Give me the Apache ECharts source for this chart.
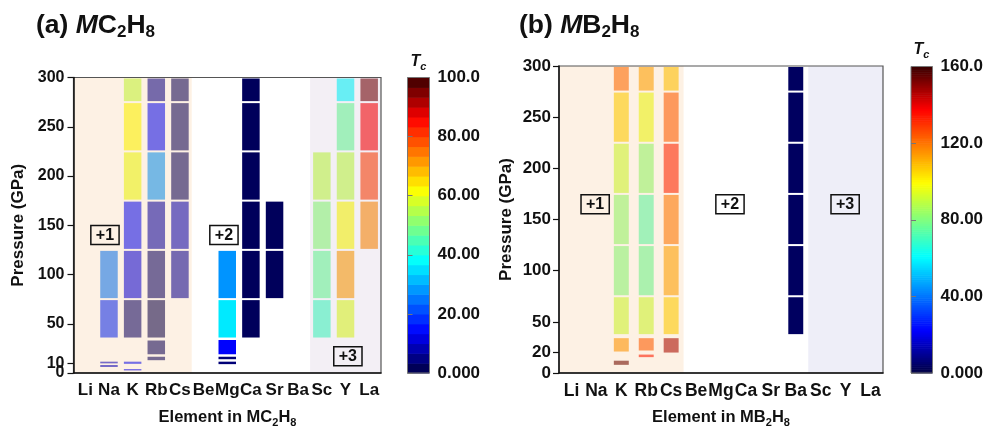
<!DOCTYPE html>
<html><head><meta charset="utf-8">
<script src="https://cdn.jsdelivr.net/npm/echarts@6/dist/echarts.min.js"></script>
<style>html,body{margin:0;padding:0;background:#fff}#c{width:989px;height:428px}</style>
</head><body><div id="c"></div>
<script>
// ---------------- data ----------------
const elements = ['Li','Na','K','Rb','Cs','Be','Mg','Ca','Sr','Ba','Sc','Y','La'];
const yTicksA = [0,10,50,100,150,200,250,300];
const yTicksB = [0,20,50,100,150,200,250,300];
const pMax = 300;
const tcMaxA = 100, tcMaxB = 160;
const cbIntervalA = 20, cbIntervalB = 40;
const cbStepsA = 30, cbStepsB = 160;
// cells: [element index, pressure low (GPa), pressure high (GPa), Tc (K)]
const cellsA = [
  [1,75,125,25],[1,35,75,18],[1,9.8,11.5,10],[1,6.1,8.1,10],
  [2,275,300,56],[2,225,275,62],[2,175,225,60],[2,125,175,15],[2,75,125,12],[2,35,75,3.5],[2,9.3,11.5,15],[2,2.6,4,14],
  [3,275,300,6],[3,225,275,15],[3,175,225,28],[3,125,175,8],[3,75,125,3.5],[3,35,75,1.4],[3,18,34,2.5],[3,13,16.5,2.5],
  [4,275,300,2.5],[4,225,275,2.5],[4,175,225,2.5],[4,125,175,9],[4,75,125,7],
  [6,75,125,28],[6,35,75,36],[6,18,34.5,14],[6,14,16.5,4],[6,9,11.5,4],
  [7,275,300,2],[7,225,275,2],[7,175,225,2],[7,125,175,2],[7,75,125,2],[7,35,75,2],
  [8,125,175,2],[8,75,125,2],
  [10,175,225,56],[10,125,175,51],[10,75,125,48],[10,35,75,44],
  [11,275,300,38],[11,225,275,48],[11,175,225,56],[11,125,175,62],[11,75,125,71],[11,35,75,59],
  [12,275,300,96],[12,225,275,86],[12,175,225,80],[12,125,175,73]
];
const cellsB = [
  [2,275,300,122],[2,225,275,106],[2,175,225,91],[2,125,175,82],[2,75,125,80],[2,37,75,91],[2,20,35,115],[2,7,13,155],
  [3,275,300,113],[3,225,275,96],[3,175,225,82],[3,125,175,73],[3,75,125,76],[3,37,75,91],[3,21,35,124],[3,15.5,18,135],
  [4,275,300,108],[4,225,275,124],[4,175,225,133],[4,125,175,120],[4,75,125,113],[4,37,75,106],[4,19,35,148],
  [9,275,300,3.7],[9,225,275,3.7],[9,175,225,3.7],[9,125,175,3.7],[9,75,125,3.7],[9,37,75,3.7]
];
// shaded valence groups: [first element index, last element index]
const shadeGroups = [[0,4],[10,12]];
// group labels: [element position, pressure, text]
const labelsA = [[0.83,140,'+1'],[5.86,140,'+2'],[11.1,17,'+3']];
const labelsB = [[0.95,165,'+1'],[6.36,165,'+2'],[10.98,165,'+3']];

// ---------------- styles ----------------
const FAM = '"Liberation Sans", Arial, sans-serif';
const INK = '#111';
const shadeA = ['rgba(250,225,197,0.47)','rgba(228,219,233,0.45)'];
const shadeB = ['rgba(250,225,197,0.47)','rgba(218,218,240,0.45)'];
const stops = [[0,[0,0,64]],[0.14,[0,0,255]],[0.38,[0,255,255]],[0.62,[255,255,0]],[0.86,[255,0,0]],[1,[56,0,0]]];
function cmap(t){
  for(let k=1;k<stops.length;k++){
    if(t<=stops[k][0]){
      const a=stops[k-1], b=stops[k], f=(t-a[0])/(b[0]-a[0]);
      const c=a[1].map((v,j)=>Math.round(v+(b[1][j]-v)*f));
      return 'rgb('+c.join(',')+')';
    }
  }
  return 'rgb('+stops[stops.length-1][1].join(',')+')';
}
const palette = Array.from({length:121},(_,i)=>cmap(i/120));

function fontStr(s,it){return (it?'italic ':'')+'bold '+s+'px '+FAM;}
const mctx = document.createElement('canvas').getContext('2d');
function richGroup(x, base, parts, center){
  const w = parts.map(p=>{mctx.font=fontStr(p.s,p.i);return mctx.measureText(p.t).width;});
  let cx = center ? x - w.reduce((a,b)=>a+b,0)/2 : x;
  return parts.map((p,k)=>{
    const el={type:'text', x:cx, y:base+(p.d||0)-0.31*p.s, z:20,
      style:{text:p.t, font:fontStr(p.s,p.i), fill:INK, align:'left', verticalAlign:'middle'}};
    cx+=w[k]; return el;});
}

function cellSeries(cells, ai, frac){
  return {type:'custom', xAxisIndex:ai, yAxisIndex:ai, z:2, data:cells, encode:{x:0,y:[1,2]},
    renderItem:function(params, api){
      const idx=api.value(0), lo=api.value(1), hi=api.value(2);
      const t=api.coord([idx,hi]), b=api.coord([idx,lo]);
      const bw=api.size([1,0])[0]*frac;
      let y0=t[1], h=b[1]-t[1];
      if(h>6){y0+=1; h-=2;} else {h=Math.max(h,1.3);}
      return {type:'rect', shape:{x:t[0]-bw/2, y:y0, width:bw, height:h}, style:{fill:api.visual('color')}};
    }};
}
function shadeSeries(ai, colors){
  return {type:'custom', xAxisIndex:ai, yAxisIndex:ai, z:3, silent:true, data:shadeGroups.map(g=>[g[0],g[1]]),
    renderItem:function(params, api){
      const a=api.coord([api.value(0),pMax]), b=api.coord([api.value(1),0]);
      const bw=api.size([1,0])[0];
      return {type:'rect', shape:{x:a[0]-bw/2, y:a[1], width:b[0]-a[0]+bw, height:b[1]-a[1]},
        style:{fill:colors[params.dataIndex]}};
    }};
}
function labelSeries(ai, labels){
  return {type:'custom', xAxisIndex:ai, yAxisIndex:ai, z:4, silent:true, data:labels.map(l=>[Math.floor(l[0]),l[1]]),
    renderItem:function(params, api){
      const l=labels[params.dataIndex];
      const c0=api.coord([0,l[1]]), c1=api.coord([1,l[1]]);
      const x=c0[0]+l[0]*(c1[0]-c0[0]);
      return {type:'text', x:x, y:c0[1], style:{text:l[2], font:fontStr(16), fill:INK, align:'center', verticalAlign:'middle',
        borderColor:INK, borderWidth:1.5, padding:[2,5,1,5]}};
    }};
}
function cbData(max, steps){
  const d=[]; for(let i=0;i<steps;i++){d.push([0,i*max/steps,(i+1)*max/steps,(i+0.5)*max/steps]);} return d;
}
function cbSeries(ai, max, steps){
  return {type:'custom', xAxisIndex:ai, yAxisIndex:ai, z:2, silent:true, data:cbData(max,steps), encode:{x:0,y:[1,2]},
    renderItem:function(params, api){
      const t=api.coord([0,api.value(2)]), b=api.coord([1,api.value(1)]);
      return {type:'rect', shape:{x:t[0], y:t[1], width:b[0]-t[0], height:b[1]-t[1]+0.6}, style:{fill:api.visual('color')}};
    }};
}
function cbFmt(v){return v>=100? v.toFixed(1) : (v===0?'0.000':v.toFixed(2));}

function catAxis(gi, fs){
  return {type:'category', gridIndex:gi, data:elements, z:10,
    axisLine:{lineStyle:{color:INK,width:1.5}},
    axisTick:{alignWithLabel:true, length:5, lineStyle:{color:INK,width:1.2}},
    axisLabel:{color:INK, fontFamily:FAM, fontWeight:'bold', fontSize:fs, margin:9, interval:0},
    splitLine:{show:false}};
}
function pAxis(gi, ticks, gap, margin, fs){
  return {type:'value', gridIndex:gi, min:0, max:pMax, interval:50, z:10, position:'left', offset:0,
    name:'Pressure (GPa)', nameLocation:'middle', nameGap:gap,
    nameTextStyle:{color:INK, fontFamily:FAM, fontWeight:'bold', fontSize:17},
    axisLine:{show:true, lineStyle:{color:INK,width:1.5}},
    axisTick:{show:true, length:6, customValues:ticks, lineStyle:{color:INK,width:1.2}},
    axisLabel:{color:INK, fontFamily:FAM, fontWeight:'bold', fontSize:fs, margin:margin, customValues:ticks.slice(1),
      showMinLabel:true, showMaxLabel:true, hideOverlap:false},
    splitLine:{show:false}};
}
// separate axis carrying only the bottom (zero) label so it is not hidden by overlap with the next label
function pZeroAxis(gi, ticks, margin, fs){
  return {type:'value', gridIndex:gi, min:0, max:pMax, interval:50, z:10, position:'left', offset:0,
    axisLine:{show:false}, axisTick:{show:false}, splitLine:{show:false},
    axisLabel:{color:INK, fontFamily:FAM, fontWeight:'bold', fontSize:fs, margin:margin, customValues:ticks.slice(0,1),
      showMinLabel:true, hideOverlap:false}};
}
function cbXAxis(gi){return {type:'value', gridIndex:gi, min:0, max:1, show:false};}
function cbYAxis(gi, max, interval){
  return {type:'value', gridIndex:gi, min:0, max:max, interval:interval, position:'right', z:10,
    axisLine:{show:false},
    axisTick:{show:true, length:5, lineStyle:{color:'#777',width:1}},
    axisLabel:{color:INK, fontFamily:FAM, fontWeight:'bold', fontSize:17, margin:8, formatter:cbFmt,
      showMinLabel:true, showMaxLabel:true},
    splitLine:{show:false}};
}

const chart = echarts.init(document.getElementById('c'), null, {renderer:'canvas'});
const graphics = [].concat(
  richGroup(36, 33.5, [{t:'(a) ',s:26.5},{t:'M',s:26.5,i:true},{t:'C',s:26.5},{t:'2',s:17,d:4},{t:'H',s:26.5},{t:'8',s:17,d:4}], false),
  richGroup(519, 33.5, [{t:'(b) ',s:26.5},{t:'M',s:26.5,i:true},{t:'B',s:26.5},{t:'2',s:17,d:4},{t:'H',s:26.5},{t:'8',s:17,d:4}], false),
  richGroup(227.5, 423, [{t:'Element in MC',s:16.5},{t:'2',s:11,d:3},{t:'H',s:16.5},{t:'8',s:11,d:3}], true),
  richGroup(721, 423, [{t:'Element in MB',s:16.5},{t:'2',s:11,d:3},{t:'H',s:16.5},{t:'8',s:11,d:3}], true),
  richGroup(418.5, 67, [{t:'T',s:16,i:true},{t:'c',s:11,i:true,d:3}], true),
  richGroup(921.5, 55, [{t:'T',s:16,i:true},{t:'c',s:11,i:true,d:3}], true)
);
chart.setOption({
  animation:false,
  backgroundColor:'#fff',
  grid:[
    {left:73.5, top:77.5, width:307.5, height:295.5, show:true, z:10, backgroundColor:'transparent', borderColor:'#555', borderWidth:1.2},
    {left:407.5, top:77.5, width:22, height:295.5, show:true, z:10, backgroundColor:'transparent', borderColor:'#777', borderWidth:1},
    {left:559, top:66, width:324, height:307, show:true, z:10, backgroundColor:'transparent', borderColor:'#555', borderWidth:1.2},
    {left:911, top:66.5, width:21.5, height:306.5, show:true, z:10, backgroundColor:'transparent', borderColor:'#777', borderWidth:1}
  ],
  xAxis:[catAxis(0,17), cbXAxis(1), catAxis(2,17.5), cbXAxis(3)],
  yAxis:[pAxis(0,yTicksA,47,9,16), cbYAxis(1,tcMaxA,cbIntervalA), pAxis(2,yTicksB,44,8,17), cbYAxis(3,tcMaxB,cbIntervalB),
         pZeroAxis(0,yTicksA,9,16), pZeroAxis(2,yTicksB,8,17)],
  visualMap:[
    {type:'continuous', show:false, min:0, max:tcMaxA, dimension:3, seriesIndex:[0,3], inRange:{color:palette}},
    {type:'continuous', show:false, min:0, max:tcMaxB, dimension:3, seriesIndex:[4,7], inRange:{color:palette}}
  ],
  series:[
    cellSeries(cellsA,0,0.74), shadeSeries(0,shadeA), labelSeries(0,labelsA), cbSeries(1,tcMaxA,cbStepsA),
    cellSeries(cellsB,2,0.6), shadeSeries(2,shadeB), labelSeries(2,labelsB), cbSeries(3,tcMaxB,cbStepsB)
  ],
  graphic:graphics
});
</script></body></html>
